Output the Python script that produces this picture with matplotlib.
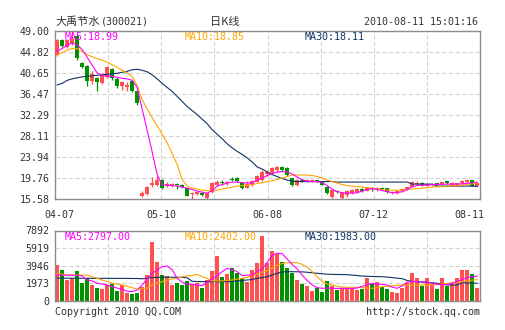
"""Daily K-line chart of 300021 with MA5/MA10/MA30 and a volume panel."""

import matplotlib

matplotlib.use("Agg")
import matplotlib.pyplot as plt  # noqa: E402
from matplotlib.transforms import ScaledTranslation  # noqa: E402

# ---- data --------------------------------------------------------------
opens = [
    44.2, 47.2, 45.9, 46.6, 48.0, 42.6, 42.1, 39.1, 39.7, 38.6,
    39.9, 41.4, 39.5, 38.1, 37.8, 39.1, 37.0, 16.2, 16.6, 18.4,
    18.4, 19.5, 18.2, 18.3, 18.7, 18.5, 17.8, 16.6, 16.7, 16.9,
    15.8, 17.0, 18.5, 19.0, 18.8, 19.7, 19.9, 18.8, 17.9, 18.4,
    19.1, 19.4, 20.6, 20.8, 21.3, 22.0, 21.7, 19.8, 18.4, 19.4,
    19.2, 19.3, 19.4, 19.1, 18.1, 16.0, 17.2, 15.9, 16.4, 16.9,
    17.0, 17.7, 17.3, 17.9, 17.4, 17.8, 17.8, 16.8, 16.9, 17.2,
    17.6, 18.1, 18.6, 18.9, 18.3, 18.4, 18.8, 18.6, 19.2, 18.4,
    18.5, 18.8, 19.0, 19.4, 18.3,
]
closes = [
    47.2, 46.0, 47.2, 47.4, 43.6, 41.9, 39.1, 40.5, 38.8, 40.3,
    41.9, 39.6, 38.0, 38.9, 38.3, 37.0, 34.7, 16.9, 18.0, 18.8,
    19.4, 17.9, 18.7, 18.6, 18.5, 18.1, 16.3, 16.9, 17.1, 16.4,
    16.8, 18.8, 19.1, 18.8, 19.0, 19.4, 19.2, 17.9, 18.7, 19.3,
    20.3, 21.0, 21.0, 21.7, 21.9, 21.4, 20.4, 18.4, 19.5, 19.3,
    19.4, 19.4, 19.2, 18.5, 16.8, 17.4, 17.0, 16.8, 17.3, 17.5,
    17.6, 17.2, 18.0, 17.7, 17.9, 17.6, 17.0, 17.1, 17.2, 17.6,
    18.0, 19.0, 18.9, 18.4, 18.7, 18.6, 18.5, 19.0, 18.8, 18.9,
    18.8, 19.3, 19.5, 18.3, 18.8,
]
highs = [
    47.4, 47.4, 47.5, 49.0, 48.3, 42.9, 42.2, 41.1, 39.9, 40.6,
    42.1, 41.6, 39.8, 39.1, 38.9, 39.3, 37.1, 17.3, 18.2, 19.95,
    20.2, 19.6, 19.0, 18.9, 18.9, 18.7, 17.9, 17.1, 17.3, 17.0,
    16.9, 19.0, 19.5, 19.4, 19.3, 20.1, 20.0, 19.0, 19.3, 19.5,
    20.5, 21.3, 21.3, 22.0, 22.2, 22.2, 21.9, 19.9, 19.6, 19.6,
    19.6, 19.7, 19.5, 19.3, 18.2, 17.5, 17.5, 17.0, 17.4, 17.7,
    17.8, 17.9, 18.1, 18.0, 18.0, 18.1, 17.9, 17.2, 17.3, 17.7,
    18.1, 19.3, 19.2, 19.0, 18.9, 18.8, 18.9, 19.1, 19.3, 19.0,
    18.9, 19.4, 19.6, 19.5, 18.9,
]
lows = [
    44.0, 45.8, 45.7, 46.2, 43.2, 41.6, 38.0, 38.4, 37.0, 38.4,
    39.6, 39.2, 37.6, 37.3, 37.0, 36.9, 34.4, 16.0, 16.4, 18.1,
    18.2, 17.7, 18.0, 18.1, 17.6, 17.8, 16.2, 15.6, 16.5, 16.3,
    15.58, 16.9, 18.3, 18.5, 18.4, 19.2, 19.0, 17.6, 17.8, 18.2,
    19.0, 19.3, 20.2, 20.6, 21.1, 21.2, 20.2, 18.3, 18.2, 19.1,
    19.0, 19.1, 19.0, 18.4, 16.6, 15.9, 16.8, 15.7, 16.0, 16.7,
    16.9, 17.1, 17.2, 17.3, 17.2, 17.4, 16.9, 16.6, 16.7, 17.0,
    17.4, 18.0, 18.4, 18.3, 18.2, 18.3, 18.4, 18.5, 18.6, 18.3,
    18.4, 18.7, 18.9, 18.2, 18.2,
]
price_ma5 = [
    45.0, 45.5, 46.2, 46.6, 46.3, 45.3, 43.8, 42.2, 40.7, 40.2,
    40.0, 40.0, 39.8, 39.6, 39.5, 39.2, 37.8, 33.5, 29.3, 25.0,
    20.5, 18.4, 18.4, 18.3, 18.2, 18.0, 17.8, 17.5, 17.2, 17.0,
    16.8, 17.3, 18.2, 18.5, 18.8, 19.0, 19.0, 18.9, 18.8, 18.8,
    19.4, 19.8, 20.3, 20.7, 21.0, 21.1, 21.0, 20.6, 20.0, 19.5,
    19.1, 19.1, 19.1, 18.9, 18.3, 17.6, 17.1, 16.9, 16.8, 16.8,
    16.9, 17.2, 17.5, 17.7, 17.6, 17.3, 17.1, 16.9, 16.9, 17.1,
    17.5, 18.1, 18.3, 18.4, 18.4, 18.5, 18.55, 18.55, 18.6, 18.6,
    18.6, 18.65, 18.75, 18.85, 18.99,
]
price_ma10 = [
    44.2, 44.7, 45.2, 45.5, 45.5, 44.9, 44.3, 43.9, 43.5, 43.2,
    42.8, 42.3, 41.8, 41.2, 40.7, 39.9, 38.2, 35.4, 33.5, 31.8,
    30.2, 28.5, 26.8, 24.7, 22.5, 19.5, 18.2, 17.8, 17.6, 17.4,
    17.3, 17.3, 17.4, 17.6, 17.8, 18.0, 18.2, 18.3, 18.4, 18.5,
    18.7, 18.9, 19.1, 19.3, 19.5, 19.8, 20.1, 20.4, 20.4, 20.4,
    20.4, 20.3, 20.1, 19.8, 19.4, 19.1, 18.8, 18.5, 18.3, 18.2,
    18.1, 18.0, 17.9, 17.8, 17.7, 17.5, 17.4, 17.4, 17.4, 17.4,
    17.5, 17.6, 17.7, 17.8, 17.9, 18.0, 18.05, 18.1, 18.2, 18.25,
    18.3, 18.4, 18.5, 18.65, 18.85,
]
price_ma30 = [
    38.3, 38.6, 39.2, 39.5, 39.7, 39.9, 40.0, 40.1, 40.2, 40.3,
    40.4, 40.5, 40.6, 40.8, 41.0, 41.3, 41.4, 41.2, 40.9, 40.3,
    39.5, 38.6, 37.8, 37.0, 36.0, 35.0, 34.0, 33.2, 32.4, 31.5,
    30.6, 29.4, 28.5, 27.6, 26.6, 25.8, 25.1, 24.5, 23.8, 23.0,
    22.0, 21.6, 21.0, 20.5, 20.1, 19.7, 19.4, 19.2, 19.1, 19.1,
    19.1, 19.1, 19.1, 19.1, 19.1, 19.1, 19.0, 19.0, 19.0, 19.0,
    19.0, 19.0, 19.0, 19.0, 19.0, 19.0, 19.0, 19.0, 19.0, 19.0,
    19.0, 18.6, 18.6, 18.6, 18.6, 18.6, 18.2, 18.2, 18.2, 18.2,
    18.2, 18.2, 18.2, 18.2, 18.11,
]
volumes = [
    4030, 3470, 2350, 2540, 3360, 2050, 2610, 1790, 1490, 1340,
    1750, 1900, 1160, 1790, 900, 750, 930, 1600, 2910, 6600,
    4400, 2910, 2800, 1790, 1980, 1790, 2240, 1870, 2050, 1490,
    2350, 3400, 5070, 2720, 2980, 3730, 3100, 2540, 2160, 3470,
    4290, 7275, 4216, 5597, 5223, 4328, 3731, 3171, 2350, 1865,
    1679, 1119, 1492, 1045, 2239, 1642, 1231, 1418, 1343, 1418,
    1231, 1343, 2612, 1865, 2164, 1604, 1343, 1045, 933, 1418,
    2052, 3097, 2537, 1716, 2537, 1865, 1306, 2537, 1679, 1977,
    2612, 3470, 3433, 2985, 1492,
]
volume_up = [
    1, 0, 1, 1, 0, 0, 0, 1, 0, 1,
    1, 0, 0, 1, 1, 0, 0, 1, 1, 1,
    1, 0, 1, 1, 0, 0, 0, 1, 1, 0,
    1, 1, 1, 0, 1, 0, 0, 0, 1, 1,
    1, 1, 1, 1, 1, 0, 0, 0, 1, 0,
    1, 1, 0, 0, 0, 1, 0, 1, 1, 1,
    1, 0, 1, 0, 1, 0, 0, 1, 1, 1,
    1, 1, 1, 0, 1, 1, 0, 1, 0, 1,
    1, 1, 1, 0, 1,
]
volume_ma5 = [
    2910, 2900, 2900, 2870, 2900, 2800, 2350, 2250, 1980, 1900,
    1790, 1600, 1450, 1300, 1100, 1050, 1230, 1790, 2500, 3100,
    3470, 3840, 3920, 3500, 2540, 2100, 1870, 1870, 1790, 1720,
    2090, 2500, 2840, 3280, 3660, 3500, 3280, 2840, 2900, 2900,
    3300, 3600, 4300, 5100, 5340, 5300, 4700, 4100, 3600, 2900,
    2300, 1800, 1500, 1420, 1450, 1420, 1400, 1420, 1400, 1420,
    1450, 1650, 1800, 1980, 1900, 1850, 1790, 1550, 1420, 1700,
    2100, 2200, 2160, 2160, 2100, 1980, 1870, 1800, 1850, 1980,
    2200, 2400, 2640, 2700, 2797,
]
volume_ma10 = [
    3100, 3000, 2910, 2910, 2910, 2900, 2910, 2700, 2550, 2350,
    2200, 1980, 1900, 1790, 1650, 1490, 1340, 1380, 1420, 1790,
    1980, 2160, 2350, 2450, 2540, 2700, 2840, 2840, 2985, 2720,
    2540, 2240, 2240, 2240, 2300, 2350, 2450, 2540, 2650, 2850,
    3050, 3200, 3400, 3700, 4000, 4200, 4290, 4290, 4290, 4100,
    3800, 3300, 2700, 2200, 1900, 1790, 1650, 1550, 1530, 1530,
    1530, 1500, 1450, 1420, 1500, 1600, 1650, 1700, 1750, 1790,
    1790, 1800, 1790, 1790, 1790, 1790, 1850, 1900, 1950, 2050,
    2100, 2160, 2250, 2330, 2402,
]
volume_ma30 = [
    2560, 2560, 2550, 2550, 2550, 2540, 2540, 2540, 2540, 2540,
    2540, 2530, 2530, 2530, 2530, 2520, 2520, 2480, 2560, 2620,
    2650, 2660, 2660, 2660, 2650, 2650, 2600, 2200, 2180, 2170,
    2160, 2160, 2160, 2170, 2180, 2200, 2250, 2300, 2350, 2400,
    2540, 2620, 2720, 2900, 3100, 3250, 3280, 3280, 3270, 3260,
    3220, 3160, 3100, 3050, 3000, 2980, 2970, 2960, 2950, 2900,
    2850, 2790, 2770, 2750, 2730, 2720, 2680, 2620, 2560, 2500,
    2300, 2180, 2160, 2120, 2080, 2050, 1980, 1900, 1800, 1790,
    1790, 2050, 2020, 2000, 1983,
]
price_ticks = [15.58, 19.76, 23.94, 28.11, 32.29, 36.47, 40.65, 44.82, 49.00]
volume_ticks = [0, 1973, 3946, 5919, 7892]
date_labels = ["04-07", "05-10", "06-08", "07-12", "08-11"]
price_legend = ["MA5:18.99", "MA10:18.85", "MA30:18.11"]
volume_legend = ["MA5:2797.00", "MA10:2402.00", "MA30:1983.00"]

# ---- styling ----------------------------------------------------------
RED = "#ff5050"
GREEN = "#009000"
MA_COLORS = ["#ff00ff", "#ffa500", "#0f3466"]
TEXT = "#333333"
MONO = "DejaVu Sans Mono"
CJK = ["Noto Sans CJK SC", "DejaVu Sans"]
W, H = 505, 330

fig = plt.figure(figsize=(W / 100, H / 100), dpi=100)
fig.patch.set_facecolor("white")


def pixel_axes(left, top, right, bottom):
    return fig.add_axes(
        [left / W, 1 - bottom / H, (right - left) / W, (bottom - top) / H]
    )


index = list(range(len(closes)))
xlim = (-0.43, len(closes) - 0.43)
grid_x = [xlim[0] + (xlim[1] - xlim[0]) * k / 8 for k in range(1, 8)]
label_x = [xlim[0] + (xlim[1] - xlim[0]) * k / 4 for k in range(5)]


def style_axes(axis, yticks, ylabels):
    axis.set_xlim(*xlim)
    axis.set_ylim(yticks[0], yticks[-1])
    axis.set_yticks(yticks)
    axis.set_yticklabels(ylabels, fontfamily=MONO, fontsize=7.2, color=TEXT)
    axis.tick_params(length=0, pad=4)
    for spine in axis.spines.values():
        spine.set_color("#8c8c8c")
        spine.set_linewidth(1.0)
    for value in yticks[1:-1]:
        axis.axhline(value, color="#d4d4d4", lw=0.8, ls=(0, (4, 2)), zorder=0)
    for value in grid_x:
        axis.axvline(value, color="#d4d4d4", lw=0.8, ls=(0, (4, 2)), zorder=0)


def legend_row(axis, labels, y_px):
    for label, color, x_px in zip(labels, MA_COLORS, [65, 184.5, 305]):
        fig.text(
            x_px / W, 1 - y_px / H, label, color=color, fontfamily=MONO,
            fontsize=7.2, va="center", ha="left", zorder=10,
        )


# ---- price panel ------------------------------------------------------
price = pixel_axes(55, 31, 480, 199.3)
style_axes(price, price_ticks, [f"{v:.2f}" for v in price_ticks])
colors = [RED if c >= o else GREEN for o, c in zip(opens, closes)]
price.vlines(index, lows, highs, colors=colors, lw=0.9, zorder=2)
bottoms = [min(o, c) for o, c in zip(opens, closes)]
heights = [max(abs(c - o), 0.1) for o, c in zip(opens, closes)]
price.bar(index, heights, bottom=bottoms, width=0.74, color=colors, lw=0, zorder=3)
for series, color in zip([price_ma30, price_ma10, price_ma5], MA_COLORS[::-1]):
    price.plot(index, series, color=color, lw=0.8, zorder=4)
price.set_xticks(label_x)
price.set_xticklabels(date_labels, fontfamily=MONO, fontsize=7.2, color=TEXT)
price.tick_params(axis="x", pad=8)
ticks = price.get_xticklabels()
ticks[0].set_transform(ticks[0].get_transform() + ScaledTranslation(4.5 / 100, 0, fig.dpi_scale_trans))
ticks[-1].set_transform(ticks[-1].get_transform() + ScaledTranslation(-11 / 100, 0, fig.dpi_scale_trans))
legend_row(price, price_legend, 36.5)

# ---- volume panel -----------------------------------------------------
volume = pixel_axes(55, 230.5, 480, 301)
style_axes(volume, volume_ticks, [str(v) for v in volume_ticks])
volume.bar(
    index, volumes, width=0.74, lw=0, zorder=2,
    color=[RED if up else GREEN for up in volume_up],
)
for series, color in zip([volume_ma30, volume_ma10, volume_ma5], MA_COLORS[::-1]):
    volume.plot(index, series, color=color, lw=0.8, zorder=4)
volume.set_xticks([])
legend_row(volume, volume_legend, 236.5)

# ---- header and footer texts -----------------------------------------
fig.text(55 / W, 1 - 22 / H, "大禹节水", fontfamily=CJK, fontsize=8, color=TEXT, va="center")
fig.text(101 / W, 1 - 22 / H, "(300021)", fontfamily=MONO, fontsize=7.2, color=TEXT, va="center")
fig.text(225 / W, 1 - 22 / H, "日K线", fontfamily=CJK, fontsize=8, color=TEXT, va="center", ha="center")
fig.text(478 / W, 1 - 22 / H, "2010-08-11 15:01:16", fontfamily=MONO, fontsize=7.2, color=TEXT, va="center", ha="right")
fig.text(55 / W, 1 - 312 / H, "Copyright 2010 QQ.COM", fontfamily=MONO, fontsize=7.2, color=TEXT, va="center")
fig.text(480 / W, 1 - 312 / H, "http://stock.qq.com", fontfamily=MONO, fontsize=7.2, color=TEXT, va="center", ha="right")

fig.savefig("out.png", dpi=100)
